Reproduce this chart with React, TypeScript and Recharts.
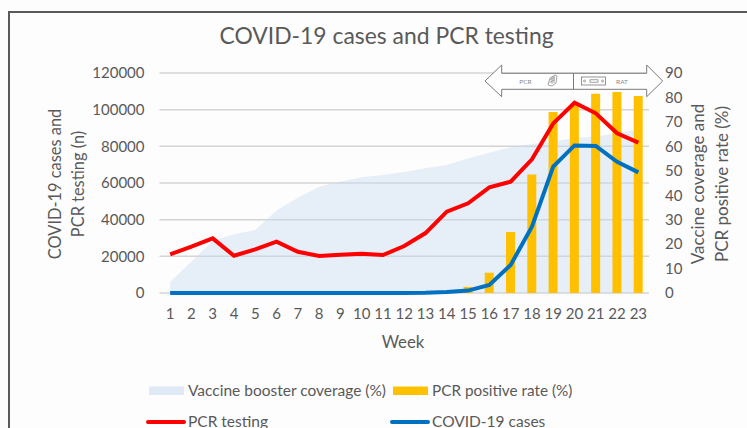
import React from "react";
import { ComposedChart, Area, Bar, Line, XAxis, YAxis, CartesianGrid } from "recharts";

const weeks = [1,2,3,4,5,6,7,8,9,10,11,12,13,14,15,16,17,18,19,20,21,22,23];
const pcrTesting = [21100,25300,29800,20300,23800,28000,22500,20200,20900,21400,20700,25600,32700,44400,48900,57600,60700,72900,92500,103800,98000,87100,82000];
const covidCases = [0,0,0,0,0,0,0,0,0,0,0,0,100,500,1300,4400,15300,36200,68900,80500,80200,71600,65800];
const positiveRate = [null,null,null,null,null,null,null,null,null,null,null,null,null,null,2.5,8.3,25,48.5,74,77,81.5,82.2,80.6];
const boosterCoverage = [4.6,12.8,21.4,24,25.8,33.7,39,43.5,45.5,47.4,48.3,49.5,51,52.4,55,57.4,59.6,61,62,63.4,64,65.4,67];
const leftTicks = [0,20000,40000,60000,80000,100000,120000];
const rightTicks = [0,10,20,30,40,50,60,70,80,90];

const data = weeks.map((week, i) => ({
  week,
  testing: pcrTesting[i],
  cases: covidCases[i],
  rate: positiveRate[i],
  booster: boosterCoverage[i],
}));

const FONT = "Lato, 'Open Sans', sans-serif";
const INK = "#595959";
const tick = { fill: INK, fontSize: 15, fontFamily: FONT };

export default function App() {
  return (
    <div style={{ position: "fixed", left: 0, top: 0, width: 747, height: 428, overflow: "hidden", background: "#fdfdfd" }}>
      <ComposedChart
        width={747}
        height={428}
        data={data}
        margin={{ top: 73, right: 0, bottom: 0, left: 0 }}
      >
        <CartesianGrid yAxisId="left" vertical={false} stroke="#d4d4d4" strokeWidth={1.5} />
        <XAxis dataKey="week" axisLine={false} tickLine={false} tick={tick} tickMargin={9} interval={0} height={135} />
        <YAxis yAxisId="left" width={159.5} domain={[0, 120000]} ticks={leftTicks} axisLine={false} tickLine={false} tick={tick} tickMargin={9} />
        <YAxis yAxisId="right" orientation="right" width={98} domain={[0, 90]} ticks={rightTicks} axisLine={false} tickLine={false} tick={tick} tickMargin={10} />
        <Area yAxisId="right" dataKey="booster" type="linear" stroke="none" fill="#c5daf0" fillOpacity={0.42} isAnimationActive={false} />
        <Bar yAxisId="right" dataKey="rate" fill="#FFC000" barSize={9} isAnimationActive={false} />
        <Line yAxisId="left" dataKey="testing" type="linear" stroke="#FF0000" strokeWidth={4} dot={false} isAnimationActive={false} />
        <Line yAxisId="left" dataKey="cases" type="linear" stroke="#0070C0" strokeWidth={4} dot={false} isAnimationActive={false} />
      </ComposedChart>

      <svg width={747} height={428} style={{ position: "absolute", left: 0, top: 0, pointerEvents: "none" }} fontFamily={FONT}>
        <path d="M9 428V12H747" fill="none" stroke="#5a5a5a" strokeWidth={2} />

        <text x={386.5} y={44} textAnchor="middle" fontSize={22.9} fill={INK}>COVID-19 cases and PCR testing</text>
        <text x={403} y={348} textAnchor="middle" fontSize={16.8} fill={INK}>Week</text>

        <text transform="translate(61 184) rotate(-90)" textAnchor="middle" fontSize={16.4} fill={INK}>COVID-19 cases and</text>
        <text transform="translate(84 184) rotate(-90)" textAnchor="middle" fontSize={16.4} fill={INK}>PCR testing (n)</text>
        <text transform="translate(704 184) rotate(-90)" textAnchor="middle" fontSize={17} fill={INK}>Vaccine coverage and</text>
        <text transform="translate(728 184) rotate(-90)" textAnchor="middle" fontSize={17} fill={INK}>PCR positive rate (%)</text>

        <path d="M485 81L501.7 65V73.3H646.7V65L662.7 81L646.7 96.7V89.3H501.7V96.7Z" fill="#ffffff" stroke="#7a7a7a" strokeWidth={1} />
        <line x1={573.5} y1={73.3} x2={573.5} y2={89.3} stroke="#7a7a7a" strokeWidth={1} />
        <text x={525.5} y={84} textAnchor="middle" fontSize={6.5} fill="#8a8a8a">PCR</text>
        <text x={622} y={84} textAnchor="middle" fontSize={6.5} fill="#8a8a8a">RAT</text>
        <path d="M548 85l2-7 5-3 2 1-1 7-4 3z M550 80l5-3 M549.5 82.5l5.5-3 M552 77v7 M554 76v7" fill="none" stroke="#9a9a9a" strokeWidth={0.9} />
        <rect x={581.5} y={77} width={24} height={8} fill="none" stroke="#7a7a7a" strokeWidth={0.8} />
        <circle cx={584.5} cy={81} r={1} fill="none" stroke="#7a7a7a" strokeWidth={0.7} />
        <rect x={590} y={79.8} width={8} height={2.4} fill="none" stroke="#7a7a7a" strokeWidth={0.7} />
        <circle cx={602.5} cy={81} r={1} fill="none" stroke="#7a7a7a" strokeWidth={0.7} />

        <rect x={149} y={386.5} width={35} height={8.5} fill="#dfeaf6" />
        <text x={188} y={396} fontSize={15.5} fill={INK}>Vaccine booster coverage (%)</text>
        <rect x={393} y={386.5} width={35} height={8.5} fill="#FFC000" />
        <text x={432} y={396} fontSize={15.3} fill={INK}>PCR positive rate (%)</text>
        <line x1={148} y1={422} x2={184} y2={422} stroke="#FF0000" strokeWidth={4} strokeLinecap="round" />
        <text x={188} y={427} fontSize={15.5} fill={INK}>PCR testing</text>
        <line x1={392} y1={422} x2={428} y2={422} stroke="#0070C0" strokeWidth={4} strokeLinecap="round" />
        <text x={432} y={427} fontSize={15.5} fill={INK}>COVID-19 cases</text>
      </svg>
    </div>
  );
}
